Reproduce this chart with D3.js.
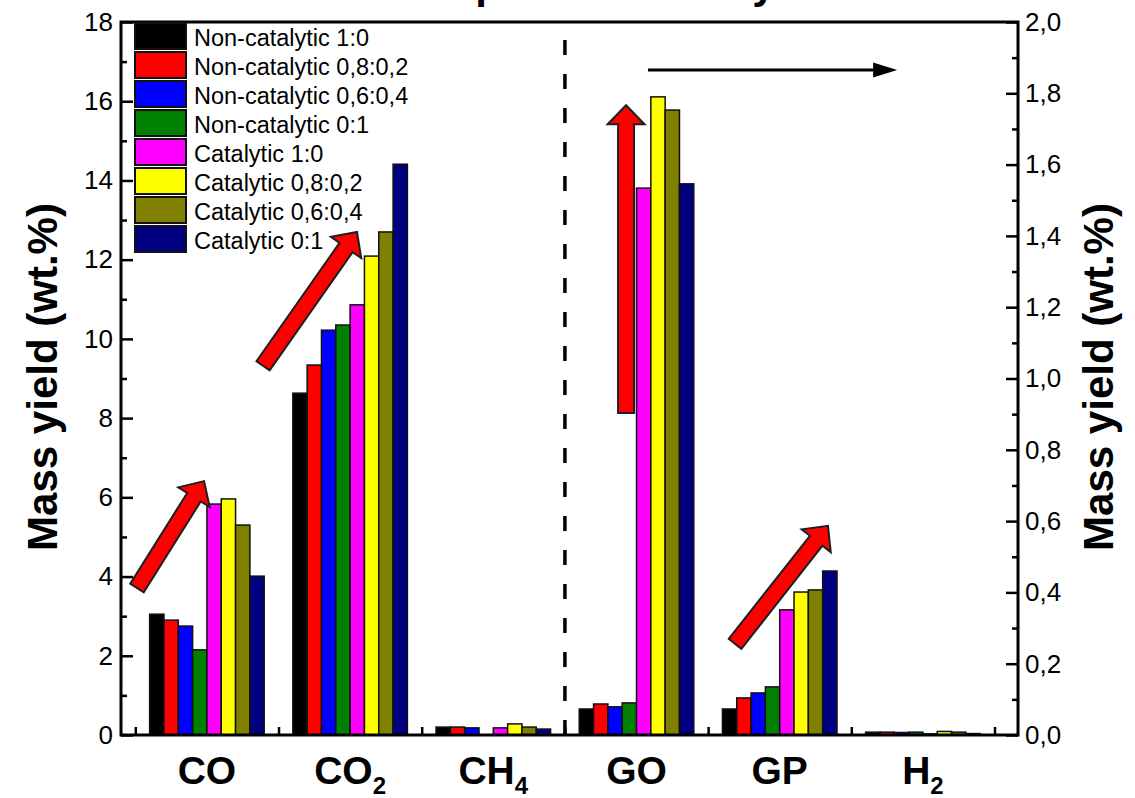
<!DOCTYPE html>
<html>
<head>
<meta charset="utf-8">
<script src="https://cdn.jsdelivr.net/npm/d3@7"></script>
<style>
body { margin: 0; background: #fff; }
svg { display: block; font-family: "Liberation Sans", Arial, sans-serif; }
</style>
</head>
<body>
<svg width="1135" height="798"></svg>
<script>
//данные
var categories = ["CO", "CO2", "CH4", "GO", "GP", "H2"];
var catMain = ["CO", "CO", "CH", "GO", "GP", "H"];
var catSub = ["", "2", "4", "", "", "2"];
var catAxis = ["left", "left", "left", "right", "right", "right"];

var seriesNames = ["Non-catalytic 1:0", "Non-catalytic 0,8:0,2", "Non-catalytic 0,6:0,4", "Non-catalytic 0:1",
    "Catalytic 1:0", "Catalytic 0,8:0,2", "Catalytic 0,6:0,4", "Catalytic 0:1"];
var seriesColors = ["#000000", "#ff0000", "#0000ff", "#008000", "#ff00ff", "#ffff00", "#808000", "#000080"];

// values per series, in category order
var nonCat10 = [3.05, 8.63, 0.20, 0.073, 0.073, 0.008];
var nonCat0802 = [2.90, 9.34, 0.20, 0.087, 0.104, 0.008];
var nonCat0604 = [2.75, 10.22, 0.18, 0.079, 0.118, 0.007];
var nonCat01 = [2.15, 10.35, 0.0, 0.090, 0.135, 0.008];
var cat10 = [5.83, 10.86, 0.18, 1.534, 0.351, 0.003];
var cat0802 = [5.96, 12.09, 0.28, 1.790, 0.401, 0.010];
var cat0604 = [5.30, 12.70, 0.20, 1.753, 0.407, 0.008];
var cat01 = [4.01, 14.41, 0.15, 1.546, 0.460, 0.004];
var seriesValues = [nonCat10, nonCat0802, nonCat0604, nonCat01, cat10, cat0802, cat0604, cat01];

var leftTicks = [0, 2, 4, 6, 8, 10, 12, 14, 16, 18];
var rightTicks = [0, 0.2, 0.4, 0.6, 0.8, 1.0, 1.2, 1.4, 1.6, 1.8, 2.0];

// red block arrows: [x0, y0, x1, y1] in category units / left axis units
var redArrows = [
    [0.512, 3.71, 0.98, 6.41],
    [1.392, 9.32, 2.048, 12.70],
    [3.927, 8.13, 3.927, 15.9],
    [4.688, 2.30, 5.337, 5.28]
];
var blackArrow = [4.08, 16.79, 5.82, 16.79];
var dividerX = 3.5;

//константы, связанные с canvas svg
var plotL = 121, plotR = 1018, plotT = 22, plotB = 735;
var barW = 0.1;

var svg = d3.select("svg");

var x = d3.scaleLinear().domain([0.4, 6.664]).range([plotL, plotR]);
var yL = d3.scaleLinear().domain([0, 18]).range([plotB, plotT]);
var yR = d3.scaleLinear().domain([0, 2]).range([plotB, plotT]);

var comma = d3.formatLocale({decimal: ",", thousands: ".", grouping: [3], currency: ["", ""]}).format(".1f");

// bars
for (var s = 0; s < seriesValues.length; s++) {
    for (var c = 0; c < categories.length; c++) {
        var v = seriesValues[s][c];
        var yy = catAxis[c] == "left" ? yL : yR;
        var cx = (c + 1) + (s - 3.5) * barW;
        svg.append("rect")
            .attr("x", x(cx - barW / 2))
            .attr("y", yy(v))
            .attr("width", x(cx + barW / 2) - x(cx - barW / 2))
            .attr("height", plotB - yy(v))
            .attr("fill", seriesColors[s])
            .attr("stroke", "#111")
            .attr("stroke-width", 1.5);
    }
}

// dashed divider
svg.append("line")
    .attr("x1", x(dividerX)).attr("x2", x(dividerX))
    .attr("y1", 40).attr("y2", plotB)
    .attr("stroke", "#000").attr("stroke-width", 3.5)
    .attr("stroke-dasharray", "15,19");

// axes
function styleAxis(g) {
    g.select(".domain").remove();
    g.selectAll(".tick line").attr("stroke", "#000").attr("stroke-width", 2.5);
    g.selectAll("text").attr("font-size", 26).attr("fill", "#000")
        .attr("font-family", "Liberation Sans, Arial, sans-serif");
}

svg.append("g").attr("transform", "translate(" + plotL + ",0)")
    .call(d3.axisLeft(yL).tickValues(d3.range(1, 18, 2)).tickSize(-6).tickFormat(""))
    .call(styleAxis);
svg.append("g").attr("transform", "translate(" + plotL + ",0)")
    .call(d3.axisLeft(yL).tickValues(leftTicks).tickSize(-12).tickPadding(8))
    .call(styleAxis);

svg.append("g").attr("transform", "translate(" + plotR + ",0)")
    .call(d3.axisRight(yR).tickValues(d3.range(0.1, 2, 0.2)).tickSize(-6).tickFormat(""))
    .call(styleAxis);
svg.append("g").attr("transform", "translate(" + plotR + ",0)")
    .call(d3.axisRight(yR).tickValues(rightTicks).tickSize(-12).tickPadding(7).tickFormat(comma))
    .call(styleAxis);

svg.append("g").attr("transform", "translate(0," + plotB + ")")
    .call(d3.axisBottom(x).tickValues(d3.range(0.5, 7, 1)).tickSize(-8).tickFormat(""))
    .call(styleAxis);

// frame
svg.append("rect")
    .attr("x", plotL).attr("y", plotT)
    .attr("width", plotR - plotL).attr("height", plotB - plotT)
    .attr("fill", "none").attr("stroke", "#000").attr("stroke-width", 3);

// category labels
for (var c = 0; c < categories.length; c++) {
    var t = svg.append("text")
        .attr("x", x(c + 1)).attr("y", 784)
        .attr("text-anchor", "middle")
        .attr("font-size", 39).attr("font-weight", "bold");
    t.append("tspan").text(catMain[c]);
    if (catSub[c] != "")
        t.append("tspan").attr("font-size", 24).attr("dy", 10).text(catSub[c]);
}

// axis titles
svg.append("text")
    .attr("transform", "translate(57,377) rotate(-90)")
    .attr("text-anchor", "middle")
    .attr("font-size", 42).attr("font-weight", "bold")
    .text("Mass yield (wt.%)");
svg.append("text")
    .attr("transform", "translate(1113,377) rotate(-90)")
    .attr("text-anchor", "middle")
    .attr("font-size", 42).attr("font-weight", "bold")
    .text("Mass yield (wt.%)");

// cropped title fragments at the top edge
svg.append("text").attr("x", 488).attr("y", -2).attr("text-anchor", "middle")
    .attr("font-size", 42).attr("font-weight", "bold").text("p");
svg.append("text").attr("x", 764).attr("y", -2).attr("text-anchor", "middle")
    .attr("font-size", 42).attr("font-weight", "bold").text("y");

// red block arrows
function blockArrow(a, shaftHalf, headHalf, headLen) {
    var x0 = x(a[0]), y0 = yL(a[1]), x1 = x(a[2]), y1 = yL(a[3]);
    var dx = x1 - x0, dy = y1 - y0;
    var len = Math.sqrt(dx * dx + dy * dy);
    var ux = dx / len, uy = dy / len;
    var nx = -uy, ny = ux;
    var bx = x1 - ux * headLen, by = y1 - uy * headLen;
    var pts = [
        [x0 + nx * shaftHalf, y0 + ny * shaftHalf],
        [bx + nx * shaftHalf, by + ny * shaftHalf],
        [bx + nx * headHalf, by + ny * headHalf],
        [x1, y1],
        [bx - nx * headHalf, by - ny * headHalf],
        [bx - nx * shaftHalf, by - ny * shaftHalf],
        [x0 - nx * shaftHalf, y0 - ny * shaftHalf]
    ];
    svg.append("path")
        .attr("d", "M" + pts.map(function(p) { return p[0] + "," + p[1]; }).join("L") + "Z")
        .attr("fill", "#ff0000")
        .attr("stroke", "#1a2020")
        .attr("stroke-width", 2);
}
for (var i = 0; i < redArrows.length; i++)
    blockArrow(redArrows[i], 8, 18.5, 19);

// black arrow
var bx0 = x(blackArrow[0]), bx1 = x(blackArrow[2]), by0 = yL(blackArrow[1]);
svg.append("line")
    .attr("x1", bx0).attr("x2", bx1 - 20)
    .attr("y1", by0).attr("y2", by0)
    .attr("stroke", "#000").attr("stroke-width", 3);
svg.append("path")
    .attr("d", "M" + bx1 + "," + by0 + "L" + (bx1 - 24) + "," + (by0 - 7.5) + "L" + (bx1 - 24) + "," + (by0 + 7.5) + "Z")
    .attr("fill", "#000");

// legend
var legend = svg.append("g");
for (var s = 0; s < seriesNames.length; s++) {
    var ly = 23 + s * 29;
    legend.append("rect")
        .attr("x", 135).attr("y", ly)
        .attr("width", 51).attr("height", 26)
        .attr("fill", seriesColors[s])
        .attr("stroke", "#111").attr("stroke-width", 2);
    legend.append("text")
        .attr("x", 194).attr("y", ly + 23)
        .attr("font-size", 23.5)
        .text(seriesNames[s]);
}
</script>
</body>
</html>
